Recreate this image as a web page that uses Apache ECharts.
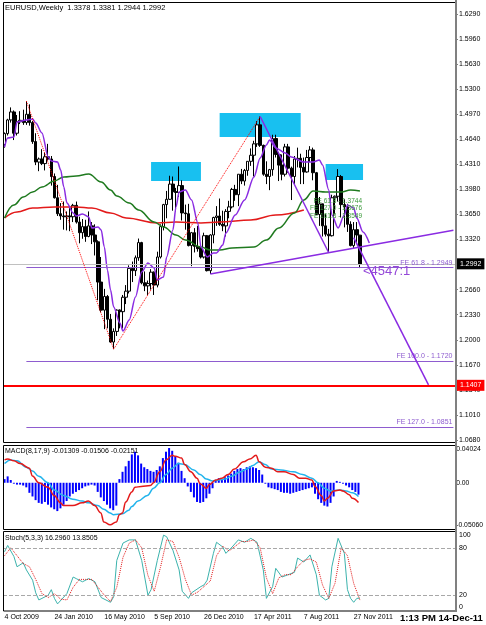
<!DOCTYPE html>
<html>
<head>
<meta charset="utf-8">
<script src="https://cdn.jsdelivr.net/npm/echarts@6/dist/echarts.min.js"></script>
<style>
html, body { margin: 0; padding: 0; background: #fff; }
#main { width: 486px; height: 625px; }
</style>
</head>
<body>
<div id="main"></div>
<script>
// weekly bars 4 Oct 2009 .. 11 Dec 2011 : [open, high, low, close]
var ohlc = [
  [1.4570,1.4730,1.4530,1.4715],[1.4715,1.4910,1.4690,1.4895],[1.4895,1.5060,1.4860,1.5000],[1.5000,1.5020,1.4630,1.4720],
  [1.4720,1.4960,1.4690,1.4870],[1.4870,1.5010,1.4840,1.4890],[1.4890,1.5030,1.4830,1.4860],[1.4860,1.5144,1.4830,1.4970],
  [1.4970,1.5100,1.4820,1.4860],[1.4860,1.4880,1.4580,1.4610],[1.4610,1.4720,1.4300,1.4340],[1.4340,1.4400,1.4220,1.4380],
  [1.4380,1.4510,1.4300,1.4320],[1.4320,1.4460,1.4230,1.4410],[1.4410,1.4580,1.4360,1.4380],[1.4380,1.4420,1.4030,1.4150],
  [1.4150,1.4190,1.3860,1.3870],[1.3870,1.4040,1.3630,1.3660],[1.3660,1.3800,1.3580,1.3630],[1.3630,1.3820,1.3450,1.3620],
  [1.3620,1.3690,1.3440,1.3630],[1.3630,1.3740,1.3430,1.3620],[1.3620,1.3790,1.3550,1.3770],[1.3770,1.3820,1.3530,1.3550],
  [1.3550,1.3620,1.3270,1.3410],[1.3410,1.3590,1.3330,1.3490],[1.3490,1.3580,1.3290,1.3360],[1.3360,1.3690,1.3350,1.3500],
  [1.3500,1.3550,1.3260,1.3380],[1.3380,1.3520,1.3110,1.3290],[1.3290,1.3310,1.2520,1.2760],[1.2760,1.3090,1.2360,1.2390],
  [1.2390,1.2670,1.2140,1.2570],[1.2570,1.2590,1.2150,1.2270],[1.2270,1.2340,1.1960,1.1970],[1.1970,1.2150,1.1876,1.2110],
  [1.2110,1.2400,1.2050,1.2390],[1.2390,1.2400,1.2150,1.2370],[1.2370,1.2590,1.2150,1.2560],[1.2560,1.2720,1.2470,1.2640],
  [1.2640,1.2980,1.2610,1.2940],[1.2940,1.3030,1.2760,1.2910],[1.2910,1.3110,1.2840,1.3080],[1.3080,1.3333,1.3040,1.3280],
  [1.3280,1.3290,1.2730,1.2750],[1.2750,1.2900,1.2640,1.2710],[1.2710,1.2780,1.2590,1.2740],[1.2740,1.2930,1.2660,1.2890],
  [1.2890,1.2900,1.2590,1.2720],[1.2720,1.3160,1.2690,1.3090],[1.3090,1.3520,1.3070,1.3490],[1.3490,1.3790,1.3440,1.3780],
  [1.3780,1.3960,1.3600,1.3850],[1.3850,1.4160,1.3840,1.4050],[1.4050,1.4150,1.3700,1.3950],[1.3950,1.4000,1.3690,1.3940],
  [1.3940,1.4282,1.3880,1.4030],[1.4030,1.4100,1.3570,1.3670],[1.3670,1.3780,1.3450,1.3660],[1.3660,1.3790,1.3230,1.3240],
  [1.3240,1.3420,1.2969,1.3410],[1.3410,1.3470,1.3150,1.3230],[1.3230,1.3500,1.3160,1.3200],[1.3200,1.3220,1.3070,1.3090],
  [1.3090,1.3410,1.3070,1.3370],[1.3370,1.3380,1.2900,1.2910],[1.2910,1.3390,1.2867,1.3380],[1.3380,1.3620,1.3270,1.3610],
  [1.3610,1.3760,1.3500,1.3630],[1.3630,1.3860,1.3500,1.3520],[1.3520,1.3700,1.3430,1.3500],[1.3500,1.3720,1.3360,1.3690],
  [1.3690,1.3830,1.3600,1.3750],[1.3750,1.4000,1.3730,1.3980],[1.3980,1.4040,1.3830,1.3910],[1.3910,1.4180,1.3760,1.4180],
  [1.4180,1.4250,1.4050,1.4090],[1.4090,1.4250,1.4030,1.4230],[1.4230,1.4350,1.4160,1.4350],[1.4350,1.4520,1.4290,1.4430],
  [1.4430,1.4620,1.4150,1.4580],[1.4580,1.4880,1.4540,1.4830],[1.4830,1.4940,1.4540,1.4560],[1.4560,1.4570,1.4160,1.4180],
  [1.4180,1.4350,1.4050,1.4150],[1.4150,1.4250,1.3970,1.4240],[1.4240,1.4700,1.4160,1.4650],[1.4650,1.4700,1.4400,1.4440],
  [1.4440,1.4470,1.4090,1.4300],[1.4300,1.4440,1.4100,1.4180],[1.4180,1.4580,1.4150,1.4540],[1.4540,1.4580,1.4200,1.4260],
  [1.4260,1.4280,1.3840,1.4150],[1.4150,1.4420,1.4050,1.4380],[1.4380,1.4530,1.4270,1.4390],[1.4390,1.4450,1.4050,1.4270],
  [1.4270,1.4400,1.4050,1.4210],[1.4210,1.4500,1.4200,1.4400],[1.4400,1.4550,1.4340,1.4500],[1.4500,1.4530,1.4100,1.4200],
  [1.4200,1.4210,1.3650,1.3650],[1.3650,1.3880,1.3500,1.3790],[1.3790,1.3790,1.3360,1.3500],[1.3500,1.3660,1.3360,1.3390],
  [1.3390,1.3460,1.3146,1.3370],[1.3370,1.3910,1.3360,1.3870],[1.3870,1.3900,1.3650,1.3890],[1.3890,1.4247,1.3820,1.4150],
  [1.4150,1.4170,1.3610,1.3780],[1.3780,1.3850,1.3480,1.3750],[1.3750,1.3790,1.3420,1.3520],[1.3520,1.3560,1.3230,1.3240],
  [1.3240,1.3550,1.3210,1.3450],[1.3450,1.3550,1.3260,1.3380],[1.3378,1.3381,1.2944,1.2992]
];
var slots = 145;                 // bars + empty space on the right
var dateTicks = ['4 Oct 2009','24 Jan 2010','16 May 2010','5 Sep 2010','26 Dec 2010','17 Apr 2011','7 Aug 2011','27 Nov 2011'];
var tickStep = 16;

// indicator lines, [bar, value]
var maPurple = [[0,1.4539],[1,1.4657],[3,1.4670],[4,1.4868],[7,1.4894],[9,1.4907],[10,1.4855],[12,1.4723],[14,1.4407],[15,1.4354],
  [17,1.4341],[18,1.4236],[19,1.4012],[20,1.3801],[22,1.3670],[23,1.3630],[25,1.3657],[27,1.3617],[28,1.3472],[30,1.3485],
  [31,1.3446],[32,1.3222],[33,1.2919],[34,1.2656],[35,1.2432],[37,1.2221],[38,1.2116],[40,1.2261],[42,1.2563],[44,1.2893],
  [46,1.3011],[48,1.2945],[49,1.2787],[51,1.2827],[52,1.3090],[54,1.3446],[55,1.3749],[56,1.3946],[58,1.3972],[60,1.3841],
  [62,1.3538],[63,1.3222],[65,1.3090],[67,1.3143],[68,1.3143],[70,1.3248],[71,1.3406],[74,1.3643],[77,1.3841],[80,1.4144],
  [82,1.4394],[84,1.4565],[85,1.4631],[87,1.4526],[90,1.4460],[92,1.4407],[96,1.4341],[99,1.4341],[101,1.4367],[102,1.4302],
  [104,1.3972],[105,1.3643],[107,1.3472],[109,1.3643],[110,1.3775],[112,1.3735],[113,1.3604],[115,1.3419],[117,1.3275]];
var maGreen = [[0,1.3604],[3,1.3775],[6,1.3880],[9,1.3946],[12,1.4012],[16,1.4091],[19,1.4144],[23,1.4157],[27,1.4183],
  [31,1.4078],[34,1.3972],[36,1.3893],[40,1.3801],[43,1.3709],[48,1.3551],[51,1.3485],[55,1.3380],[58,1.3314],[63,1.3222],
  [66,1.3182],[69,1.3182],[73,1.3209],[80,1.3222],[84,1.3314],[88,1.3472],[93,1.3670],[96,1.3841],[99,1.3959],[103,1.3946],
  [108,1.3946],[111,1.3972],[114,1.3959]];
var maRed = [[0,1.3604],[4,1.3683],[9,1.3735],[16,1.3749],[23,1.3749],[28,1.3735],[34,1.3670],[39,1.3604],[49,1.3538],
  [55,1.3551],[63,1.3538],[69,1.3551],[79,1.3578],[87,1.3643],[96,1.3709]];

// drawn objects
var zigzag = [[7,1.5144],[35,1.1876],[82,1.4940]];
var trendUp = [[66,1.2867],[144,1.3441]];
var trendDown = [[82,1.4940],[104,1.3146]];
var projection = [[112,1.3346],[136,1.1407]];
var feLevels = [['FE 61.8', 1.2949], ['FE 100.0', 1.1720], ['FE 127.0', 1.0851]];
var boxes = [[47,1.4341,63,1.4091],[69,1.4986,95,1.4670],[103,1.4315,115,1.4104]];
var bidPrice = 1.2992;
var stopLevel = 1.1407;

// MACD(8,17,9)
var macdHist = [0.004,0.007,0.003,-0.001,-0.002,-0.002,-0.003,-0.005,-0.011,-0.015,-0.019,-0.022,-0.023,-0.021,-0.024,-0.027,
  -0.029,-0.031,-0.028,-0.024,-0.020,-0.015,-0.012,-0.010,-0.008,-0.006,-0.004,-0.003,-0.002,-0.003,-0.010,-0.016,-0.020,-0.024,
  -0.028,-0.030,-0.025,0.004,0.012,0.018,0.024,0.031,0.034,0.030,0.021,0.017,0.015,0.013,0.012,0.014,0.018,0.027,0.034,0.038,
  0.035,0.029,0.022,0.013,0.005,-0.004,-0.010,-0.016,-0.021,-0.022,-0.021,-0.017,-0.012,-0.006,0.002,0.005,0.004,0.006,0.008,
  0.010,0.013,0.015,0.016,0.015,0.017,0.018,0.017,0.016,0.014,0.009,-0.001,-0.005,-0.006,-0.007,-0.008,-0.010,-0.011,-0.011,
  -0.012,-0.011,-0.010,-0.009,-0.008,-0.007,-0.006,-0.005,-0.012,-0.018,-0.022,-0.025,-0.026,-0.022,-0.015,0.002,0.001,-0.001,
  -0.003,-0.005,-0.008,-0.010,-0.013];
var macdMain = [[0,0.025],[1,0.026],[3,0.024],[5,0.021],[8,0.016],[9,0.0073],[11,0.000],[14,-0.005],[16,-0.014],[18,-0.022],
  [19,-0.025],[22,-0.025],[25,-0.022],[27,-0.020],[29,-0.025],[31,-0.033],[32,-0.043],[34,-0.046],[36,-0.043],[37,-0.035],
  [38,-0.033],[39,-0.021],[41,-0.010],[42,-0.005],[44,-0.004],[47,-0.003],[48,0.000],[50,0.012],[52,0.025],[54,0.030],
  [55,0.029],[57,0.027],[58,0.020],[60,0.012],[62,0.005],[63,-0.001],[65,-0.006],[66,-0.002],[68,0.003],[70,0.005],[72,0.009],
  [74,0.015],[77,0.023],[79,0.026],[81,0.030],[82,0.023],[84,0.017],[86,0.016],[88,0.012],[90,0.012],[93,0.009],[95,0.005],
  [97,0.005],[99,0.003],[100,-0.004],[102,-0.014],[103,-0.020],[104,-0.017],[106,-0.009],[108,-0.008],[109,-0.009],
  [111,-0.013],[112,-0.017],[114,-0.0215]];
var macdSignal = [[0,0.021],[2,0.025],[4,0.024],[7,0.017],[9,0.013],[11,0.007],[14,0.000],[16,-0.008],[19,-0.014],[22,-0.018],
  [25,-0.020],[27,-0.022],[30,-0.025],[32,-0.029],[34,-0.033],[35,-0.035],[38,-0.034],[40,-0.030],[41,-0.026],[43,-0.020],
  [46,-0.014],[48,-0.006],[50,0.000],[52,0.009],[54,0.016],[56,0.021],[58,0.020],[61,0.014],[63,0.009],[65,0.004],[67,0.002],
  [69,0.003],[71,0.004],[73,0.007],[76,0.012],[78,0.015],[80,0.019],[82,0.023],[84,0.020],[86,0.015],[89,0.014],[93,0.012],
  [96,0.009],[99,0.005],[101,0.000],[103,-0.006],[105,-0.009],[108,-0.008],[110,-0.009],[112,-0.011],[114,-0.0151]];
var macdTicks = [-0.0506, 0.04024];

// Stoch(5,3,3)
var stochK = [[0,75],[1,83],[3,69],[4,56],[6,61],[7,52],[9,39],[10,23],[11,14],[12,16],[14,20],[15,27],[16,16],[17,9],
  [20,22],[22,43],[23,41],[25,37],[27,41],[29,37],[31,17],[34,11],[35,18],[36,64],[38,86],[40,90],[42,90],[44,64],[46,20],
  [47,27],[49,64],[51,96],[52,94],[54,77],[56,52],[57,25],[59,16],[60,23],[63,31],[64,33],[65,39],[67,73],[68,87],[70,81],
  [71,73],[73,81],[75,90],[77,87],[79,92],[81,87],[83,52],[84,16],[86,31],[87,54],[89,43],[91,46],[93,49],[94,67],[96,62],
  [98,71],[100,46],[101,20],[103,14],[104,16],[105,56],[107,92],[109,73],[110,27],[111,16],[112,11],[113,16],[114,16.3]];
var stochD = [[0,70],[2,80],[4,70],[6,60],[8,56],[10,40],[12,22],[14,17],[16,22],[18,15],[20,14],[22,30],[24,40],[26,40],
  [28,40],[30,30],[32,20],[34,12],[36,30],[38,68],[40,86],[42,90],[44,80],[46,45],[48,25],[50,55],[52,90],[54,88],[56,68],
  [58,40],[60,20],[62,24],[64,31],[66,38],[68,70],[70,82],[72,76],[74,82],[76,88],[78,88],[80,90],[82,80],[84,42],[86,22],
  [88,42],[90,46],[92,46],[94,56],[96,64],[98,66],[100,62],[102,33],[104,16],[106,35],[108,80],[110,70],[112,35],[114,13.85]];
var stochLevels = [20, 80];

var cats = [];
for (var i = 0; i < slots; i++) cats.push(String(i));

var fnt = 'Liberation Sans';
var purple = '#8a2be2';
var fePurple = '#8e5ccf';

function catAxis(gi, withLabels) {
  return {
    type: 'category', gridIndex: gi, data: cats, boundaryGap: true,
    axisLine: { show: false }, axisTick: { show: false },
    axisLabel: withLabels ? {
      show: true, fontSize: 7, fontFamily: fnt, color: '#000', align: 'left', margin: 3,
      interval: function (idx) { return idx % tickStep === 0 && idx / tickStep < dateTicks.length; },
      formatter: function (v, idx) { return dateTicks[idx / tickStep] || ''; }
    } : { show: false },
    splitLine: { show: false }
  };
}

var chart = echarts.init(document.getElementById('main'), null, { renderer: 'canvas' });

var option = {
  animation: false,
  backgroundColor: '#fff',
  grid: [
    { left: 3, right: 31, top: 14, height: 426 },
    { left: 3, right: 31, top: 446, height: 83 },
    { left: 3, right: 31, top: 532, height: 79 }
  ],
  xAxis: [catAxis(0, false), catAxis(1, false), catAxis(2, true)],
  yAxis: [
    {
      type: 'value', gridIndex: 0, position: 'right', min: 1.068, max: 1.629, interval: 0.033,
      axisLine: { show: false }, splitLine: { show: false },
      axisTick: { show: true, length: 3, lineStyle: { color: '#808080' } },
      axisLabel: { fontSize: 7, fontFamily: fnt, color: '#000', margin: 4,
        formatter: function (v) { return v.toFixed(4); } }
    },
    {
      type: 'value', gridIndex: 1, position: 'right', min: macdTicks[0], max: macdTicks[1], interval: -macdTicks[0],
      axisLine: { show: false }, splitLine: { show: false }, axisTick: { show: false },
      axisLabel: { fontSize: 6.8, fontFamily: fnt, color: '#000', margin: 3,
        verticalAlignMinLabel: 'bottom', verticalAlignMaxLabel: 'top',
        formatter: function (v) { return Math.abs(v) < 1e-9 ? '0.00' : v.toFixed(5); } }
    },
    {
      type: 'value', gridIndex: 2, position: 'right', min: 0, max: 100, interval: 20,
      axisLine: { show: false }, splitLine: { show: false }, axisTick: { show: false },
      axisLabel: { fontSize: 7, fontFamily: fnt, color: '#000', margin: 4,
        verticalAlignMinLabel: 'bottom', verticalAlignMaxLabel: 'top',
        formatter: function (v) { return (v === 40 || v === 60) ? '' : String(v); } }
    }
  ],
  series: [
    {
      name: 'zones', type: 'line', xAxisIndex: 0, yAxisIndex: 0, data: [], z: 1,
      markArea: {
        silent: true,
        itemStyle: { color: '#18c0f0', opacity: 1 },
        data: boxes.map(function (b) { return [{ coord: [b[0], b[1]] }, { coord: [b[2], b[3]] }]; })
      },
      markLine: {
        silent: true, symbol: 'none',
        data: [
          { yAxis: bidPrice, lineStyle: { color: '#c0c0c0', width: 1, type: 'solid' },
            label: { show: true, position: 'end', distance: 2, formatter: bidPrice.toFixed(4),
              color: '#fff', backgroundColor: '#000', fontSize: 7, fontFamily: fnt, padding: [2, 3] } },
          { yAxis: stopLevel, lineStyle: { color: '#ff0000', width: 2, type: 'solid' },
            label: { show: true, position: 'end', distance: 2, formatter: stopLevel.toFixed(4),
              color: '#fff', backgroundColor: '#ff0000', fontSize: 7, fontFamily: fnt, padding: [2, 3] } }
        ].concat(feLevels.map(function (f) {
          return [
            { coord: [zigzag[0][0], f[1]], lineStyle: { color: fePurple, width: 1, type: 'solid' },
              label: { show: true, position: 'insideEndTop', distance: 1, color: fePurple, fontSize: 7, fontFamily: fnt,
                formatter: f[0] + ' - ' + f[1].toFixed(4) } },
            { coord: [slots - 1, f[1]] }
          ];
        }))
      }
    },
    {
      name: 'EURUSD', type: 'candlestick', xAxisIndex: 0, yAxisIndex: 0, z: 3, barWidth: 3,
      data: ohlc.map(function (r) { return [r[0], r[3], r[2], r[1]]; }),
      itemStyle: { color: '#fff', color0: '#000', borderColor: '#000', borderColor0: '#000', borderWidth: 1 }
    },
    { name: 'MA red', type: 'line', xAxisIndex: 0, yAxisIndex: 0, z: 4, data: maRed, smooth: 0.4, smoothMonotone: 'x',
      showSymbol: false, lineStyle: { color: '#e31a1a', width: 1.5 } },
    { name: 'MA green', type: 'line', xAxisIndex: 0, yAxisIndex: 0, z: 4, data: maGreen, smooth: 0.4, smoothMonotone: 'x',
      showSymbol: false, lineStyle: { color: '#1f7a1f', width: 1.5 } },
    { name: 'MA purple', type: 'line', xAxisIndex: 0, yAxisIndex: 0, z: 4, data: maPurple, smooth: 0.3, smoothMonotone: 'x',
      showSymbol: false, lineStyle: { color: purple, width: 1.5 } },
    { name: 'zigzag', type: 'line', xAxisIndex: 0, yAxisIndex: 0, z: 5, data: zigzag, showSymbol: false,
      lineStyle: { color: '#ff0000', width: 1, type: 'dotted' } },
    { name: 'trend up', type: 'line', xAxisIndex: 0, yAxisIndex: 0, z: 5, data: trendUp, showSymbol: false,
      lineStyle: { color: purple, width: 1.5 } },
    { name: 'trend down', type: 'line', xAxisIndex: 0, yAxisIndex: 0, z: 5, data: trendDown, showSymbol: false,
      lineStyle: { color: purple, width: 1.5 } },
    { name: 'projection', type: 'line', xAxisIndex: 0, yAxisIndex: 0, z: 5, data: projection, showSymbol: false,
      lineStyle: { color: purple, width: 1.5 } },

    { name: 'MACD hist', type: 'bar', xAxisIndex: 1, yAxisIndex: 1, data: macdHist, barWidth: 2,
      itemStyle: { color: '#0000ff' } },
    { name: 'MACD signal', type: 'line', xAxisIndex: 1, yAxisIndex: 1, data: macdSignal, smooth: 0.4, smoothMonotone: 'x',
      showSymbol: false, lineStyle: { color: '#22b4ec', width: 1.5 } },
    { name: 'MACD main', type: 'line', xAxisIndex: 1, yAxisIndex: 1, data: macdMain, smooth: 0.4, smoothMonotone: 'x',
      showSymbol: false, lineStyle: { color: '#e31a1a', width: 1.5 } },

    { name: '%K', type: 'line', xAxisIndex: 2, yAxisIndex: 2, data: stochK, showSymbol: false,
      lineStyle: { color: '#3cb3ad', width: 1 },
      markLine: { silent: true, symbol: 'none', label: { show: false },
        lineStyle: { color: '#a8a8a8', width: 1, type: 'dashed' },
        data: stochLevels.map(function (v) { return { yAxis: v }; }) } },
    { name: '%D', type: 'line', xAxisIndex: 2, yAxisIndex: 2, data: stochD, showSymbol: false,
      lineStyle: { color: '#e31a1a', width: 1, type: 'dotted' } }
  ],
  graphic: [
    { type: 'rect', silent: true, z: 50, shape: { x: 3.5, y: 2.5, width: 452, height: 440 },
      style: { fill: 'none', stroke: '#000', lineWidth: 1 } },
    { type: 'rect', silent: true, z: 50, shape: { x: 3.5, y: 445.5, width: 452, height: 84 },
      style: { fill: 'none', stroke: '#000', lineWidth: 1 } },
    { type: 'rect', silent: true, z: 50, shape: { x: 3.5, y: 531.5, width: 452, height: 79.5 },
      style: { fill: 'none', stroke: '#000', lineWidth: 1 } },
    { type: 'line', silent: true, z: 51, shape: { x1: 456, y1: 0, x2: 456, y2: 612 },
      style: { stroke: '#808080', lineWidth: 2 } },
    { type: 'text', z: 60, x: 5, y: 4,
      style: { text: 'EURUSD,Weekly  1.3378 1.3381 1.2944 1.2992', fontSize: 7.5, fontFamily: fnt, fill: '#000' } },
    { type: 'text', z: 60, x: 5, y: 448,
      style: { text: 'MACD(8,17,9) -0.01309 -0.01506 -0.02151', fontSize: 7, fontFamily: fnt, fill: '#000' } },
    { type: 'text', z: 60, x: 5, y: 535,
      style: { text: 'Stoch(5,3,3) 16.2960 13.8505', fontSize: 7, fontFamily: fnt, fill: '#000' } },
    { type: 'text', z: 60, x: 363, y: 265,
      style: { text: '<4547:1', fontSize: 13, fontFamily: fnt, fill: '#9448d8' } },
    { type: 'text', z: 60, x: 362, y: 198,
      style: { text: 'FE 61.8 - 1.3744', align: 'right', fontSize: 6.5, fontFamily: fnt, fill: '#3a9a3a' } },
    { type: 'text', z: 60, x: 362, y: 205,
      style: { text: 'FE 127.0 - 1.3676', align: 'right', fontSize: 6.5, fontFamily: fnt, fill: '#3a9a3a' } },
    { type: 'text', z: 60, x: 362, y: 213,
      style: { text: 'FE 161.8 - 1.3549', align: 'right', fontSize: 6.5, fontFamily: fnt, fill: '#3a9a3a' } },
    { type: 'text', z: 60, x: 398, y: 612,
      style: { text: '1:13 PM 14-Dec-11', fontSize: 9.5, fontWeight: 'bold', fontFamily: fnt, fill: '#000',
        backgroundColor: '#fff', padding: [1, 2] } }
  ]
};

chart.setOption(option);
</script>
</body>
</html>
